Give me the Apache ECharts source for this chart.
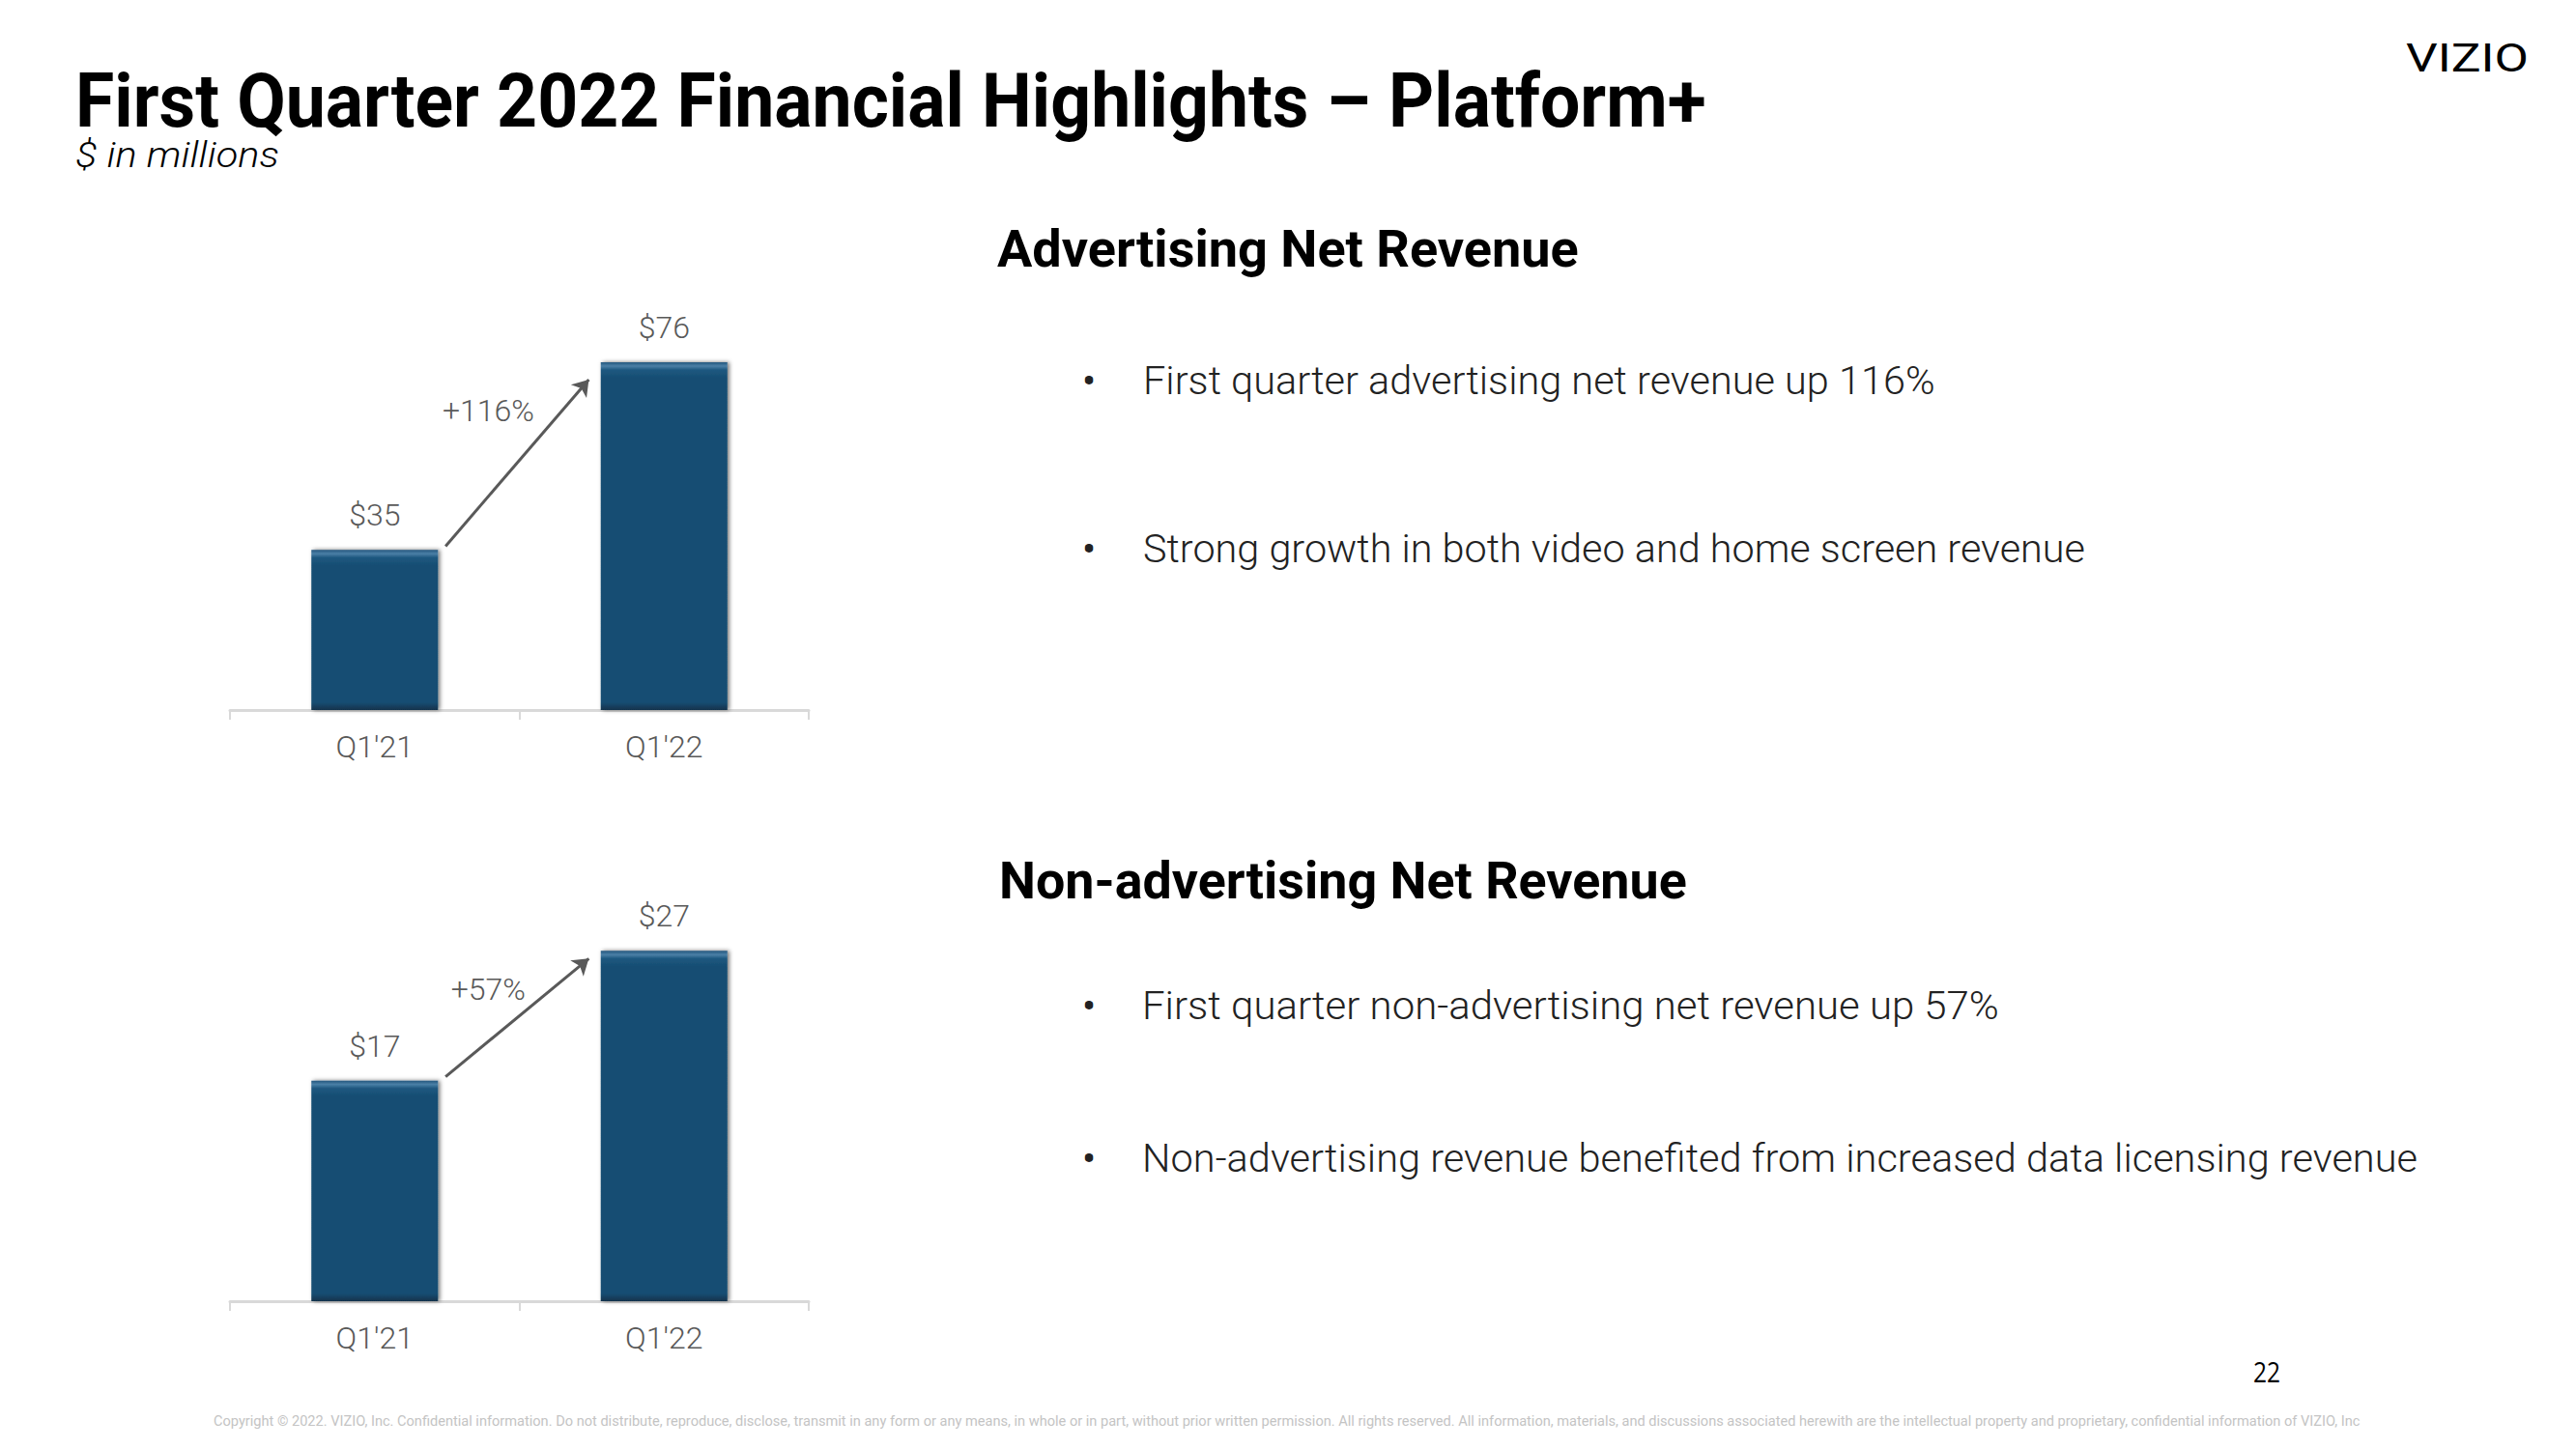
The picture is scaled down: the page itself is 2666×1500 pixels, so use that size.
<!DOCTYPE html>
<html><head><meta charset="utf-8">
<script src="https://cdn.jsdelivr.net/npm/echarts@6/dist/echarts.min.js"></script>
<style>html,body{margin:0;padding:0;background:#fff;}#c{width:2666px;height:1500px;}</style>
</head><body><div id="c"></div>
<script>
// ---- data ----
const categories = ["Q1'21", "Q1'22"];
const advertisingRevenue = [35, 76];
const nonAdvertisingRevenue = [17, 27];
const advertisingGrowth = '+116%';
const nonAdvertisingGrowth = '+57%';
const advertisingAxisMax = 80;
const nonAdvertisingAxisMax = 30;
// arrow tip heights (value units)
const arrowTips = [72.2, 26.4];

const titleText = 'First Quarter 2022 Financial Highlights \u2013 Platform+';
const subtitleText = '$ in millions';
const heading1 = 'Advertising Net Revenue';
const heading2 = 'Non-advertising Net Revenue';
const bullets1 = ['First quarter advertising net revenue up 116%', 'Strong growth in both video and home screen revenue'];
const bullets2 = ['First quarter non-advertising net revenue up 57%', 'Non-advertising revenue benefited from increased data licensing revenue'];
const footerText = 'Copyright \u00a9 2022. VIZIO, Inc. Confidential information. Do not distribute, reproduce, disclose, transmit in any form or any means, in whole or in part, without prior written permission. All rights reserved. All information, materials, and discussions associated herewith are the intellectual property and proprietary, confidential information of VIZIO, Inc';
const pageNumber = '22';
const logoText = 'VIZIO';

// ---- layout / styling ----
const LABEL_FONT = 'Roboto';
const GREY = '#595959';
const grids = [
  {left: 238, top: 356, width: 599, height: 379},
  {left: 238, top: 944, width: 599, height: 403}
];
const axisMax = [advertisingAxisMax, nonAdvertisingAxisMax];

const ctx = document.createElement('canvas').getContext('2d');
function txt(t) {
  const font = `${t.style || 'normal'} ${t.weight || 400} ${t.size}px ${t.family || 'Roboto'}`;
  ctx.font = font;
  const w = ctx.measureText(t.text).width;
  const sx = t.width ? t.width / w : 1;
  return {
    type: 'text', x: t.x, y: t.y, scaleX: sx, silent: true,
    style: {text: t.text, font: font, fill: t.color || '#000', textAlign: t.align || 'left',
            verticalAlign: 'middle', textVerticalAlign: 'middle'}
  };
}

const texts = [
  {text: titleText, x: 78, y: 104, size: 78, weight: 700, width: 1687},
  {text: subtitleText, x: 78, y: 161, size: 36, weight: 300, style: 'italic', width: 211},
  {text: logoText, x: 2490, y: 60, size: 41, weight: 400, width: 127},
  {text: heading1, x: 1032, y: 258, size: 54, weight: 700, width: 602},
  {text: bullets1[0], x: 1183, y: 394, size: 40, weight: 300, width: 820, color: '#222'},
  {text: bullets1[1], x: 1183, y: 568, size: 40, weight: 300, width: 975, color: '#222'},
  {text: heading2, x: 1034, y: 911, size: 54, weight: 700, width: 712},
  {text: bullets2[0], x: 1182, y: 1041, size: 40, weight: 300, width: 887, color: '#222'},
  {text: bullets2[1], x: 1182, y: 1199, size: 40, weight: 300, width: 1321, color: '#222'},
  {text: pageNumber, x: 2332, y: 1420, size: 29, weight: 400, width: 28, family: 'Open Sans'},
  {text: footerText, x: 221, y: 1471, size: 15, weight: 400, width: 2224, color: '#c4c4c4'}
];
const graphics = texts.map(txt);
[394, 568, 1041, 1199].forEach(y => graphics.push(txt({text: '\u2022', x: 1127, y: y, size: 42, weight: 400, align: 'center', color: '#222'})));

function barItems(values, gi) {
  return values.map(v => {
    const h = v / axisMax[gi] * grids[gi].height;
    const f = 8 / h, b = 8 / h;
    return {
      value: v,
      itemStyle: {
        color: new echarts.graphic.LinearGradient(0, 0, 0, 1, [
          {offset: 0, color: '#24577e'},
          {offset: f * 0.5, color: '#4a7fa6'},
          {offset: f, color: '#1f5880'},
          {offset: f * 2, color: '#164e73'},
          {offset: 1 - b, color: '#164e73'},
          {offset: 1, color: '#11324c'}
        ]),
        shadowColor: 'rgba(0,0,0,0.55)', shadowBlur: 4, shadowOffsetX: 2, shadowOffsetY: 0
      }
    };
  });
}

function helper(values, growth, gi) {
  const max = axisMax[gi];
  const start = [0.745, values[0] + 0.01 * max];
  const end = [categories.length - 0.76, arrowTips[gi]];
  return {
    type: 'line', xAxisIndex: 2 + gi, yAxisIndex: gi, silent: true,
    data: [start, end], symbol: 'none', lineStyle: {opacity: 0},
    markLine: {
      silent: true, symbol: ['none', 'arrow'], symbolSize: 16, animation: false,
      lineStyle: {color: GREY, width: 3, type: 'solid'}, label: {show: false},
      data: [[{coord: start}, {coord: end}]]
    },
    markPoint: {
      silent: true, symbol: 'rect', symbolSize: 1, itemStyle: {color: 'rgba(0,0,0,0)'}, animation: false,
      label: {show: true, position: 'inside', offset: [-104, 32], formatter: growth,
              color: GREY, fontSize: 32, fontFamily: LABEL_FONT, fontWeight: 300},
      data: [{coord: end, value: growth}]
    }
  };
}

const catAxis = gi => ({
  type: 'category', gridIndex: gi, data: categories,
  axisLine: {lineStyle: {color: '#d9d9d9', width: 3}},
  axisTick: {show: true, length: 10, lineStyle: {color: '#d9d9d9', width: 2}},
  axisLabel: {color: GREY, fontSize: 32, fontFamily: LABEL_FONT, fontWeight: 300, margin: 22},
  splitLine: {show: false}
});
const valAxis = gi => ({type: 'value', gridIndex: gi, min: 0, max: axisMax[gi], show: false, splitLine: {show: false}});
const helperX = gi => ({type: 'value', gridIndex: gi, min: 0, max: categories.length, show: false});

const barSeries = (values, gi) => ({
  type: 'bar', xAxisIndex: gi, yAxisIndex: gi, barWidth: 131,
  data: barItems(values, gi),
  label: {show: true, position: 'top', distance: 20, formatter: p => '$' + p.value,
          color: GREY, fontSize: 32, fontFamily: LABEL_FONT, fontWeight: 300}
});

const chart = echarts.init(document.getElementById('c'), null, {renderer: 'svg', width: 2666, height: 1500});
chart.setOption({
  animation: false,
  backgroundColor: '#fff',
  grid: grids,
  xAxis: [catAxis(0), catAxis(1), helperX(0), helperX(1)],
  yAxis: [valAxis(0), valAxis(1)],
  series: [
    barSeries(advertisingRevenue, 0),
    barSeries(nonAdvertisingRevenue, 1),
    helper(advertisingRevenue, advertisingGrowth, 0),
    helper(nonAdvertisingRevenue, nonAdvertisingGrowth, 1)
  ],
  graphic: graphics
});
</script></body></html>
